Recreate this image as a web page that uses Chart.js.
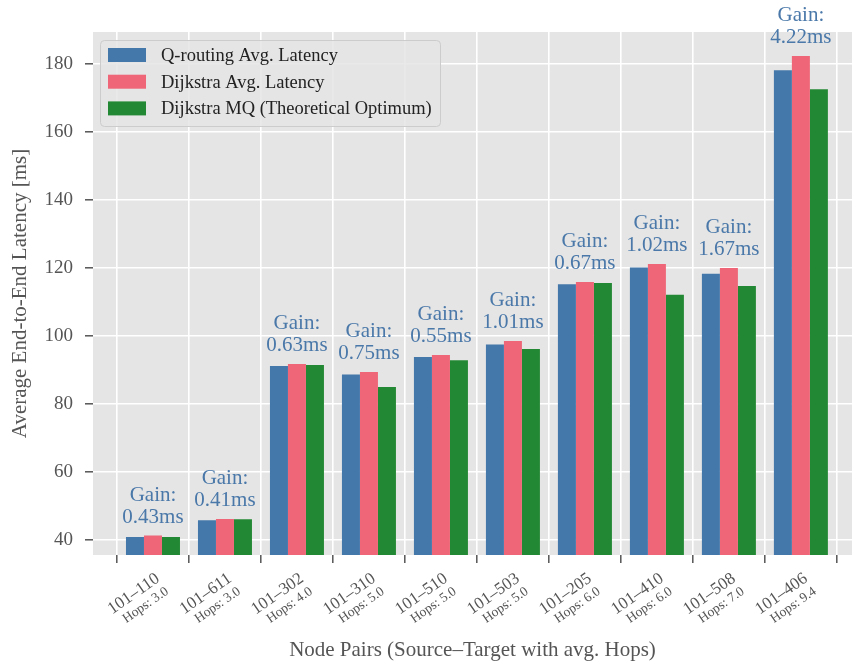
<!DOCTYPE html>
<html>
<head>
<meta charset="utf-8">
<script src="https://cdn.jsdelivr.net/npm/chart.js@4.4.1/dist/chart.umd.min.js"></script>
<style>
  html, body { margin: 0; padding: 0; background: #fff; }
  #wrap { width: 852px; height: 668px; }
</style>
</head>
<body>
<div id="wrap"><canvas id="latencyChart" width="852" height="668"></canvas></div>
<script>
// node pairs and average hop counts (x axis)
var pairs = ["101–110", "101–611", "101–302", "101–310", "101–510", "101–503", "101–205", "101–410", "101–508", "101–406"];
var hops = ["3.0", "3.0", "4.0", "5.0", "5.0", "5.0", "6.0", "6.0", "7.0", "9.4"];

// average latencies [ms]
var qRouting = [40.87, 45.79, 91.17, 88.65, 93.85, 97.49, 115.23, 120.18, 118.33, 178.13];
var dijkstra = [41.30, 46.20, 91.80, 89.40, 94.40, 98.50, 115.90, 121.20, 120.00, 182.35];
var dijkstraMQ = [40.90, 46.10, 91.50, 85.00, 92.90, 96.20, 115.60, 112.10, 114.70, 172.60];

// gain annotations above each group
var gains = ["0.43ms", "0.41ms", "0.63ms", "0.75ms", "0.55ms", "1.01ms", "0.67ms", "1.02ms", "1.67ms", "4.22ms"];

var yTicks = [40, 60, 80, 100, 120, 140, 160, 180];

var seriesNames = ["Q-routing Avg. Latency", "Dijkstra Avg. Latency", "Dijkstra MQ (Theoretical Optimum)"];
var seriesColors = ["#4477AA", "#EE6677", "#228833"];

var serif = "'Liberation Serif', 'DejaVu Serif', serif";

function toPoints(arr){
	var out = [];
	for (var i=0; i<arr.length; i++){
		out.push({x: i, y: arr[i]});
	}
	return out;
}

var panelPlugin = {
	id: "panel",
	beforeDraw: function(chart){
		var ctx = chart.ctx, a = chart.chartArea;
		ctx.save();
		ctx.fillStyle = "#ffffff";
		ctx.fillRect(0, 0, chart.width, chart.height);
		ctx.fillStyle = "#e5e5e5";
		ctx.fillRect(a.left, a.top, a.right - a.left, a.bottom - a.top);
		ctx.restore();
	}
};

var gainPlugin = {
	id: "gainLabels",
	afterDatasetsDraw: function(chart){
		var ctx = chart.ctx;
		var xs = chart.scales.x;
		ctx.save();
		ctx.fillStyle = "#4a78a9";
		ctx.font = "21px " + serif;
		ctx.textAlign = "center";
		ctx.textBaseline = "alphabetic";
		for (var i=0; i<gains.length; i++){
			var top = Infinity;
			for (var d=0; d<chart.data.datasets.length; d++){
				var bar = chart.getDatasetMeta(d).data[i];
				if (bar.y < top) top = bar.y;
			}
			var cx = xs.getPixelForValue(i);
			ctx.fillText(gains[i], cx, top - 13);
			ctx.fillText("Gain:", cx, top - 35);
		}
		ctx.restore();
	}
};

var xLabelPlugin = {
	id: "xLabels",
	afterDraw: function(chart){
		var ctx = chart.ctx;
		var xs = chart.scales.x;
		var base = chart.chartArea.bottom;
		ctx.save();
		ctx.fillStyle = "#555555";
		ctx.textAlign = "right";
		ctx.textBaseline = "middle";
		for (var i=0; i<pairs.length; i++){
			var px = xs.getPixelForValue(i);
			ctx.save();
			ctx.translate(px + 5, base + 22);
			ctx.rotate(-35 * Math.PI / 180);
			ctx.font = "17px " + serif;
			ctx.fillText(pairs[i], 0, 0);
			ctx.font = "13.5px " + serif;
			ctx.fillText("Hops: " + hops[i], 0, 16);
			ctx.restore();
		}
		ctx.restore();
	}
};

var legendPlugin = {
	id: "boxLegend",
	afterDraw: function(chart){
		var ctx = chart.ctx;
		var bx = 100, by = 40, bw = 340, bh = 86;
		ctx.save();
		ctx.beginPath();
		ctx.roundRect(bx + 0.5, by + 0.5, bw, bh, 4);
		ctx.fillStyle = "rgba(229,229,229,0.85)";
		ctx.fill();
		ctx.strokeStyle = "#cccccc";
		ctx.lineWidth = 1;
		ctx.stroke();
		ctx.font = "18.5px " + serif;
		ctx.textBaseline = "middle";
		ctx.textAlign = "left";
		var ds = chart.data.datasets;
		for (var i=0; i<ds.length; i++){
			var cy = by + 15 + i * 26.7;
			ctx.fillStyle = ds[i].backgroundColor;
			ctx.fillRect(bx + 8, cy - 7, 38, 14);
			ctx.fillStyle = "#222222";
			ctx.fillText(ds[i].label, bx + 61, cy + 1);
		}
		ctx.restore();
	}
};

var datasets = [];
var seriesData = [qRouting, dijkstra, dijkstraMQ];
for (var s=0; s<seriesData.length; s++){
	datasets.push({
		label: seriesNames[s],
		data: toPoints(seriesData[s]),
		backgroundColor: seriesColors[s],
		borderWidth: 0,
		categoryPercentage: 0.75,
		barPercentage: 1.0
	});
}

new Chart(document.getElementById("latencyChart"), {
	type: "bar",
	data: { datasets: datasets },
	options: {
		responsive: false,
		animation: false,
		maintainAspectRatio: false,
		layout: { padding: { top: 32, right: 0, bottom: 0, left: 0 } },
		plugins: {
			legend: { display: false },
			tooltip: { enabled: false }
		},
		scales: {
			x: {
				type: "linear",
				min: -0.833,
				max: 9.71,
				offset: false,
				afterBuildTicks: function(scale){
					scale.ticks = pairs.map(function(p, i){ return {value: i}; });
				},
				afterFit: function(scale){ scale.height = 113; },
				ticks: { display: false },
				border: { display: false },
				grid: {
					color: "#ffffff",
					lineWidth: 1.6,
					drawTicks: true,
					tickLength: 8,
					tickColor: "#555555",
					tickWidth: 1.5
				},
				title: {
					display: true,
					text: "Node Pairs (Source–Target with avg. Hops)",
					color: "#555555",
					font: { family: serif, size: 21 },
					padding: { top: 0, bottom: 5 }
				}
			},
			y: {
				min: 35.6,
				max: 189.4,
				afterBuildTicks: function(scale){
					scale.ticks = yTicks.map(function(v){ return {value: v}; });
				},
				afterFit: function(scale){ scale.width = 93; },
				border: { display: false },
				grid: {
					color: "#ffffff",
					lineWidth: 1.6,
					drawTicks: true,
					tickLength: 8,
					tickColor: "#555555",
					tickWidth: 1.5
				},
				ticks: {
					color: "#555555",
					font: { family: serif, size: 19 },
					padding: 12
				},
				title: {
					display: true,
					text: "Average End-to-End Latency [ms]",
					color: "#555555",
					font: { family: serif, size: 21 },
					padding: { top: 8, bottom: 0 }
				}
			}
		}
	},
	plugins: [panelPlugin, gainPlugin, xLabelPlugin, legendPlugin]
});
</script>
</body>
</html>
